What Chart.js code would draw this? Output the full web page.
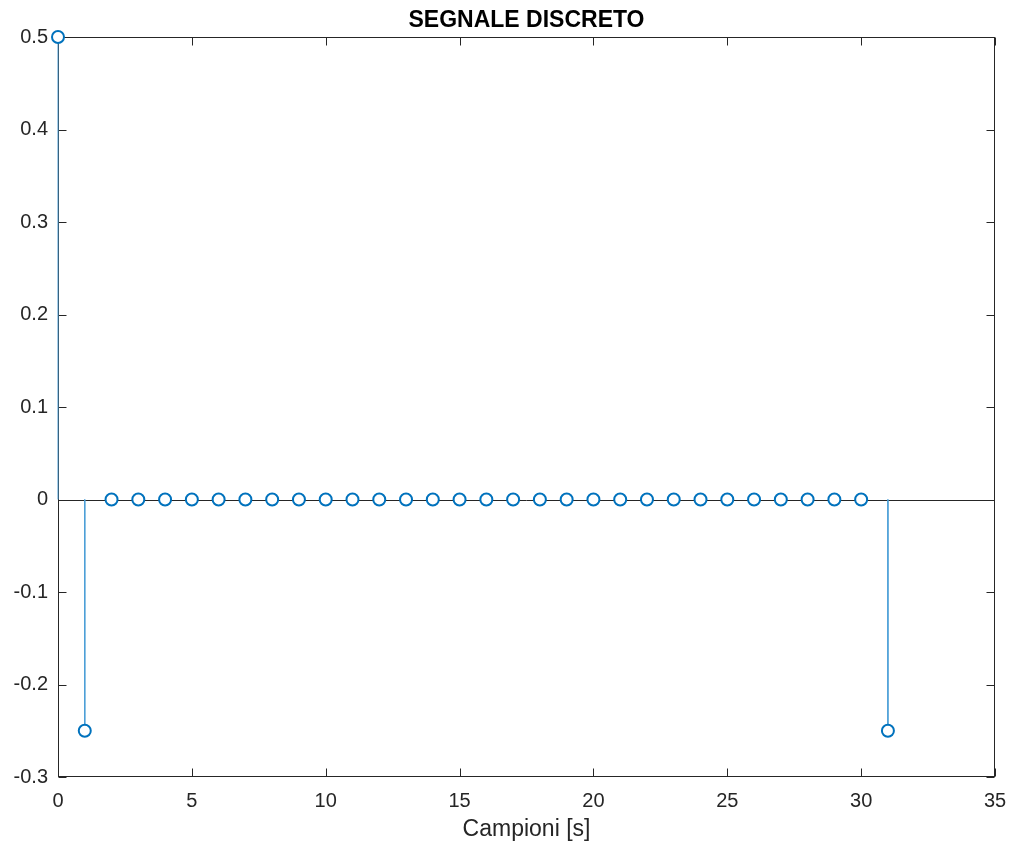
<!DOCTYPE html>
<html>
<head>
<meta charset="utf-8">
<script src="https://cdn.jsdelivr.net/npm/chart.js@4"></script>
<style>
    html, body { margin: 0; padding: 0; background: #fff; }
    #wrap { width: 1011px; height: 846px; }
</style>
</head>
<body>
<div id="wrap"><canvas id="stemChart" width="1011" height="846"></canvas></div>
<script>
// --------------------------------------------------------------------
// DATA
// --------------------------------------------------------------------
const samples = [0, 1, 2, 3, 4, 5, 6, 7, 8, 9, 10, 11, 12, 13, 14, 15,
                 16, 17, 18, 19, 20, 21, 22, 23, 24, 25, 26, 27, 28, 29, 30, 31];
const values = [0.5, -0.25, 0, 0, 0, 0, 0, 0, 0, 0, 0, 0, 0, 0, 0, 0,
                0, 0, 0, 0, 0, 0, 0, 0, 0, 0, 0, 0, 0, 0, 0, -0.25];
const xTicks = [0, 5, 10, 15, 20, 25, 30, 35];
const yTicks = [-0.3, -0.2, -0.1, 0, 0.1, 0.2, 0.3, 0.4, 0.5];

const FONT = "'Liberation Sans', Helvetica, Arial, sans-serif";
const AXIS = "#262626";
const BLUE = "#0072BD";

// stems: (x,0) -> (x,v), broken by a gap
const stemPoints = [];
samples.forEach((x, i) => {
    stemPoints.push({ x: x, y: 0 });
    stemPoints.push({ x: x, y: values[i] });
    stemPoints.push({ x: x, y: null });
});
const markerPoints = samples.map((x, i) => ({ x: x, y: values[i] }));

// --------------------------------------------------------------------
// BOX, INWARD TICKS, BASELINE
// --------------------------------------------------------------------
const boxPlugin = {
    id: "box",
    beforeDatasetsDraw(chart) {
        const { ctx, chartArea: a, scales } = chart;
        const L = Math.round(a.left) + 0.5, R = Math.round(a.right) - 0.5;
        const T = Math.round(a.top) + 0.5, B = Math.round(a.bottom) - 0.5;
        ctx.save();
        ctx.strokeStyle = AXIS;
        ctx.lineWidth = 1;

        // baseline at y = 0
        const y0 = Math.round(scales.y.getPixelForValue(0)) + 0.5;
        ctx.beginPath();
        ctx.moveTo(L, y0);
        ctx.lineTo(R, y0);
        ctx.stroke();

        ctx.strokeRect(L, T, R - L, B - T);

        const len = 8;
        ctx.beginPath();
        xTicks.forEach(v => {
            const px = Math.round(scales.x.getPixelForValue(v)) + 0.5;
            ctx.moveTo(px, B); ctx.lineTo(px, B - len);
            ctx.moveTo(px, T); ctx.lineTo(px, T + len);
        });
        yTicks.forEach(v => {
            const py = Math.round(scales.y.getPixelForValue(v)) + 0.5;
            ctx.moveTo(L, py); ctx.lineTo(L + len, py);
            ctx.moveTo(R, py); ctx.lineTo(R - len, py);
        });
        ctx.stroke();
        ctx.restore();
    }
};

// --------------------------------------------------------------------
// CHART
// --------------------------------------------------------------------
const ctx = document.getElementById("stemChart").getContext("2d");

new Chart(ctx, {
    type: "scatter",
    data: {
        datasets: [
            {
                label: "markers",
                data: markerPoints,
                showLine: false,
                pointRadius: 6,
                pointBorderWidth: 2,
                pointBorderColor: BLUE,
                pointBackgroundColor: "#ffffff",
                pointHoverRadius: 6,
                clip: false,
                order: 0
            },
            {
                label: "stems",
                data: stemPoints,
                showLine: true,
                spanGaps: false,
                borderColor: "#4a9dd6",
                borderWidth: 1,
                pointRadius: 0,
                pointHoverRadius: 0,
                clip: false,
                order: 1
            }
        ]
    },
    options: {
        responsive: false,
        animation: false,
        layout: { padding: { left: 0, right: 16, top: 0, bottom: 0 } },
        plugins: {
            legend: { display: false },
            tooltip: { enabled: false },
            title: {
                display: true,
                text: "SEGNALE DISCRETO",
                fullSize: false,
                color: "#000",
                font: { family: FONT, size: 23, weight: "bold", lineHeight: 1.2 },
                padding: { top: 6.5, bottom: 2.9 }
            }
        },
        scales: {
            x: {
                type: "linear",
                min: 0,
                max: 35,
                afterFit: s => { s.height = 69; s.paddingLeft = 0; s.paddingRight = 0; },
                afterBuildTicks: s => { s.ticks = xTicks.map(v => ({ value: v })); },
                grid: { display: false, drawTicks: false, tickLength: 0 },
                border: { display: false },
                ticks: {
                    color: AXIS,
                    padding: 12,
                    font: { family: FONT, size: 20 },
                    maxRotation: 0
                },
                title: {
                    display: true,
                    text: "Campioni [s]",
                    color: AXIS,
                    font: { family: FONT, size: 23 },
                    padding: { top: 0, bottom: 3 }
                }
            },
            y: {
                type: "linear",
                min: -0.3,
                max: 0.5,
                afterFit: s => { s.width = 58; s.paddingTop = 0; s.paddingBottom = 0; },
                afterBuildTicks: s => { s.ticks = yTicks.map(v => ({ value: v })); },
                grid: { display: false, drawTicks: false, tickLength: 0 },
                border: { display: false },
                ticks: {
                    color: AXIS,
                    padding: 10,
                    font: { family: FONT, size: 20 },
                    callback: v => Math.abs(v) < 1e-9 ? "0" : String(+v.toFixed(1))
                }
            }
        }
    },
    plugins: [boxPlugin]
});
</script>
</body>
</html>
